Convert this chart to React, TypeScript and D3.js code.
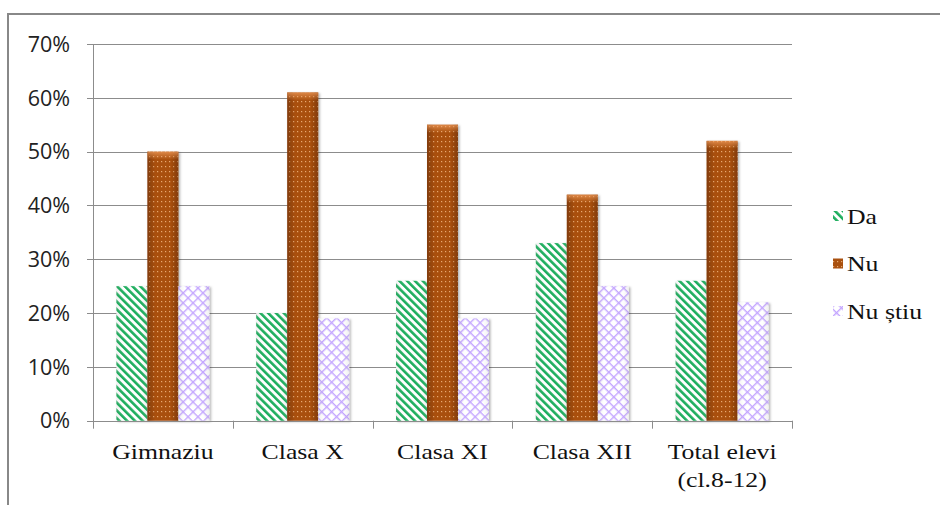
import React from "react";
import * as d3 from "d3";

const categories: string[][] = [
  ["Gimnaziu"],
  ["Clasa X"],
  ["Clasa XI"],
  ["Clasa XII"],
  ["Total elevi", "(cl.8-12)"],
];
const seriesNames = ["Da", "Nu", "Nu știu"];
const da = [25, 20, 26, 33, 26];
const nu = [50, 61, 55, 42, 52];
const nuStiu = [25, 19, 19, 25, 22];
const yTicks = [0, 10, 20, 30, 40, 50, 60, 70];

const W = 940;
const H = 505;
const plot = { left: 93, right: 792, top: 44, bottom: 420.7 };

const fills = ["url(#patDa)", "url(#patNu)", "url(#patNuStiu)"];
const seriesValues = [da, nu, nuStiu];
const serifFont = "'Liberation Serif', 'Times New Roman', serif";
const stretch = 1.17;

export default function App() {
  const x0 = d3
    .scaleBand<number>()
    .domain(d3.range(categories.length))
    .range([plot.left, plot.right])
    .paddingInner(0)
    .paddingOuter(0);
  const groupWidth = 93;
  const x1 = d3
    .scaleBand<number>()
    .domain(d3.range(seriesNames.length))
    .range([0, groupWidth]);
  const y = d3.scaleLinear().domain([0, 70]).range([plot.bottom, plot.top]);

  const bars: React.ReactNode[] = [];
  categories.forEach((_, ci) => {
    const gx = x0(ci)! + (x0.bandwidth() - groupWidth) / 2;
    seriesValues.forEach((vals, si) => {
      const bx = gx + x1(si)!;
      const by = y(vals[ci]);
      const bh = y(0) - by;
      bars.push(
        <g key={`${ci}-${si}`} filter="url(#barShadow)">
          <rect x={bx} y={by} width={x1.bandwidth()} height={bh} fill={fills[si]} />
          <rect
            x={bx}
            y={by}
            width={x1.bandwidth()}
            height={bh}
            fill={si === 1 ? "url(#shadeDark)" : "url(#shadeLight)"}
          />
          {si === 1 && (
            <rect x={bx} y={by} width={x1.bandwidth()} height={8} fill="url(#capGlow)" />
          )}
        </g>
      );
    });
  });

  return (
    <svg
      width={W}
      height={H}
      style={{ position: "absolute", left: 0, top: 0, background: "#fff" }}
    >
      <defs>
        <pattern
          id="patDa"
          width="5.5"
          height="5.5"
          patternUnits="userSpaceOnUse"
          patternTransform="rotate(-45)"
        >
          <rect width="5.5" height="5.5" fill="#ffffff" />
          <rect width="2.6" height="5.5" fill="#1fae5e" />
        </pattern>
        <pattern id="patNu" width="4" height="5" patternUnits="userSpaceOnUse">
          <rect width="4" height="5" fill="#a9500f" />
          <rect x="1" y="1" width="1.2" height="1.2" fill="#e8a870" />
        </pattern>
        <pattern
          id="patNuStiu"
          width="7"
          height="7"
          patternUnits="userSpaceOnUse"
          patternTransform="rotate(45)"
        >
          <rect width="7" height="7" fill="#ffffff" />
          <rect width="1.4" height="7" fill="#c4a6ff" />
          <rect width="7" height="1.4" fill="#c4a6ff" />
        </pattern>
        <linearGradient id="shadeDark" x1="0" x2="1" y1="0" y2="0">
          <stop offset="0" stopColor="#3a1500" stopOpacity="0.35" />
          <stop offset="0.25" stopColor="#3a1500" stopOpacity="0" />
          <stop offset="0.75" stopColor="#3a1500" stopOpacity="0" />
          <stop offset="1" stopColor="#3a1500" stopOpacity="0.35" />
        </linearGradient>
        <linearGradient id="shadeLight" x1="0" x2="1" y1="0" y2="0">
          <stop offset="0" stopColor="#888" stopOpacity="0.12" />
          <stop offset="0.2" stopColor="#888" stopOpacity="0" />
          <stop offset="0.8" stopColor="#888" stopOpacity="0" />
          <stop offset="1" stopColor="#888" stopOpacity="0.12" />
        </linearGradient>
        <linearGradient id="capGlow" x1="0" x2="0" y1="0" y2="1">
          <stop offset="0" stopColor="#f4a060" stopOpacity="0.7" />
          <stop offset="1" stopColor="#f4a060" stopOpacity="0" />
        </linearGradient>
        <filter id="barShadow" x="-20%" y="-5%" width="150%" height="115%">
          <feDropShadow dx="1.5" dy="1" stdDeviation="1.2" floodColor="#000" floodOpacity="0.3" />
        </filter>
      </defs>

      {/* chart frame */}
      <rect x={8} y={14} width={1000} height={600} fill="none" stroke="#888" strokeWidth={2} />

      {/* horizontal gridlines and y ticks */}
      {yTicks.map((t) => (
        <g key={t}>
          <line
            x1={plot.left - 6}
            x2={plot.right}
            y1={Math.round(y(t)) + 0.5}
            y2={Math.round(y(t)) + 0.5}
            stroke="#8c8c8c"
            strokeWidth={1}
          />
          <text
            x={70}
            y={y(t)}
            dy="0.36em"
            textAnchor="end"
            fontFamily="'Open Sans', 'Liberation Sans', sans-serif"
            fontSize={21.5}
            fill="#222"
          >
            {t}%
          </text>
        </g>
      ))}

      {/* y axis */}
      <line
        x1={plot.left + 0.5}
        x2={plot.left + 0.5}
        y1={plot.top}
        y2={plot.bottom + 7}
        stroke="#8c8c8c"
      />

      {/* category separator ticks */}
      {d3.range(categories.length + 1).map((i) => {
        const xx = Math.round(plot.left + i * x0.step()) + 0.5;
        return (
          <line
            key={i}
            x1={xx}
            x2={xx}
            y1={plot.bottom}
            y2={plot.bottom + 8}
            stroke="#8c8c8c"
          />
        );
      })}

      {bars}

      {/* x axis line drawn on top of bars */}
      <line
        x1={plot.left}
        x2={plot.right}
        y1={Math.round(plot.bottom) + 0.5}
        y2={Math.round(plot.bottom) + 0.5}
        stroke="#8c8c8c"
      />

      {/* category labels */}
      {categories.map((lines, ci) => {
        const cx = x0(ci)! + x0.bandwidth() / 2;
        return (
          <g key={ci} transform={`translate(${cx},0) scale(${stretch},1)`}>
            <text
              x={0}
              y={459}
              textAnchor="middle"
              fontFamily={serifFont}
              fontSize={22}
              fill="#111"
            >
              {lines.map((l, li) => (
                <tspan key={li} x={0} dy={li === 0 ? 0 : 28}>
                  {l}
                </tspan>
              ))}
            </text>
          </g>
        );
      })}

      {/* legend */}
      {seriesNames.map((name, si) => {
        const ly = 216 + si * 47.5;
        return (
          <g key={name}>
            <rect x={833} y={ly - 5} width={10} height={10} fill={fills[si]} />
            <g transform={`translate(847,${ly}) scale(${stretch},1)`}>
              <text
                x={0}
                y={0}
                dy="0.35em"
                fontFamily={serifFont}
                fontSize={22}
                fill="#111"
              >
                {name}
              </text>
            </g>
          </g>
        );
      })}
    </svg>
  );
}
